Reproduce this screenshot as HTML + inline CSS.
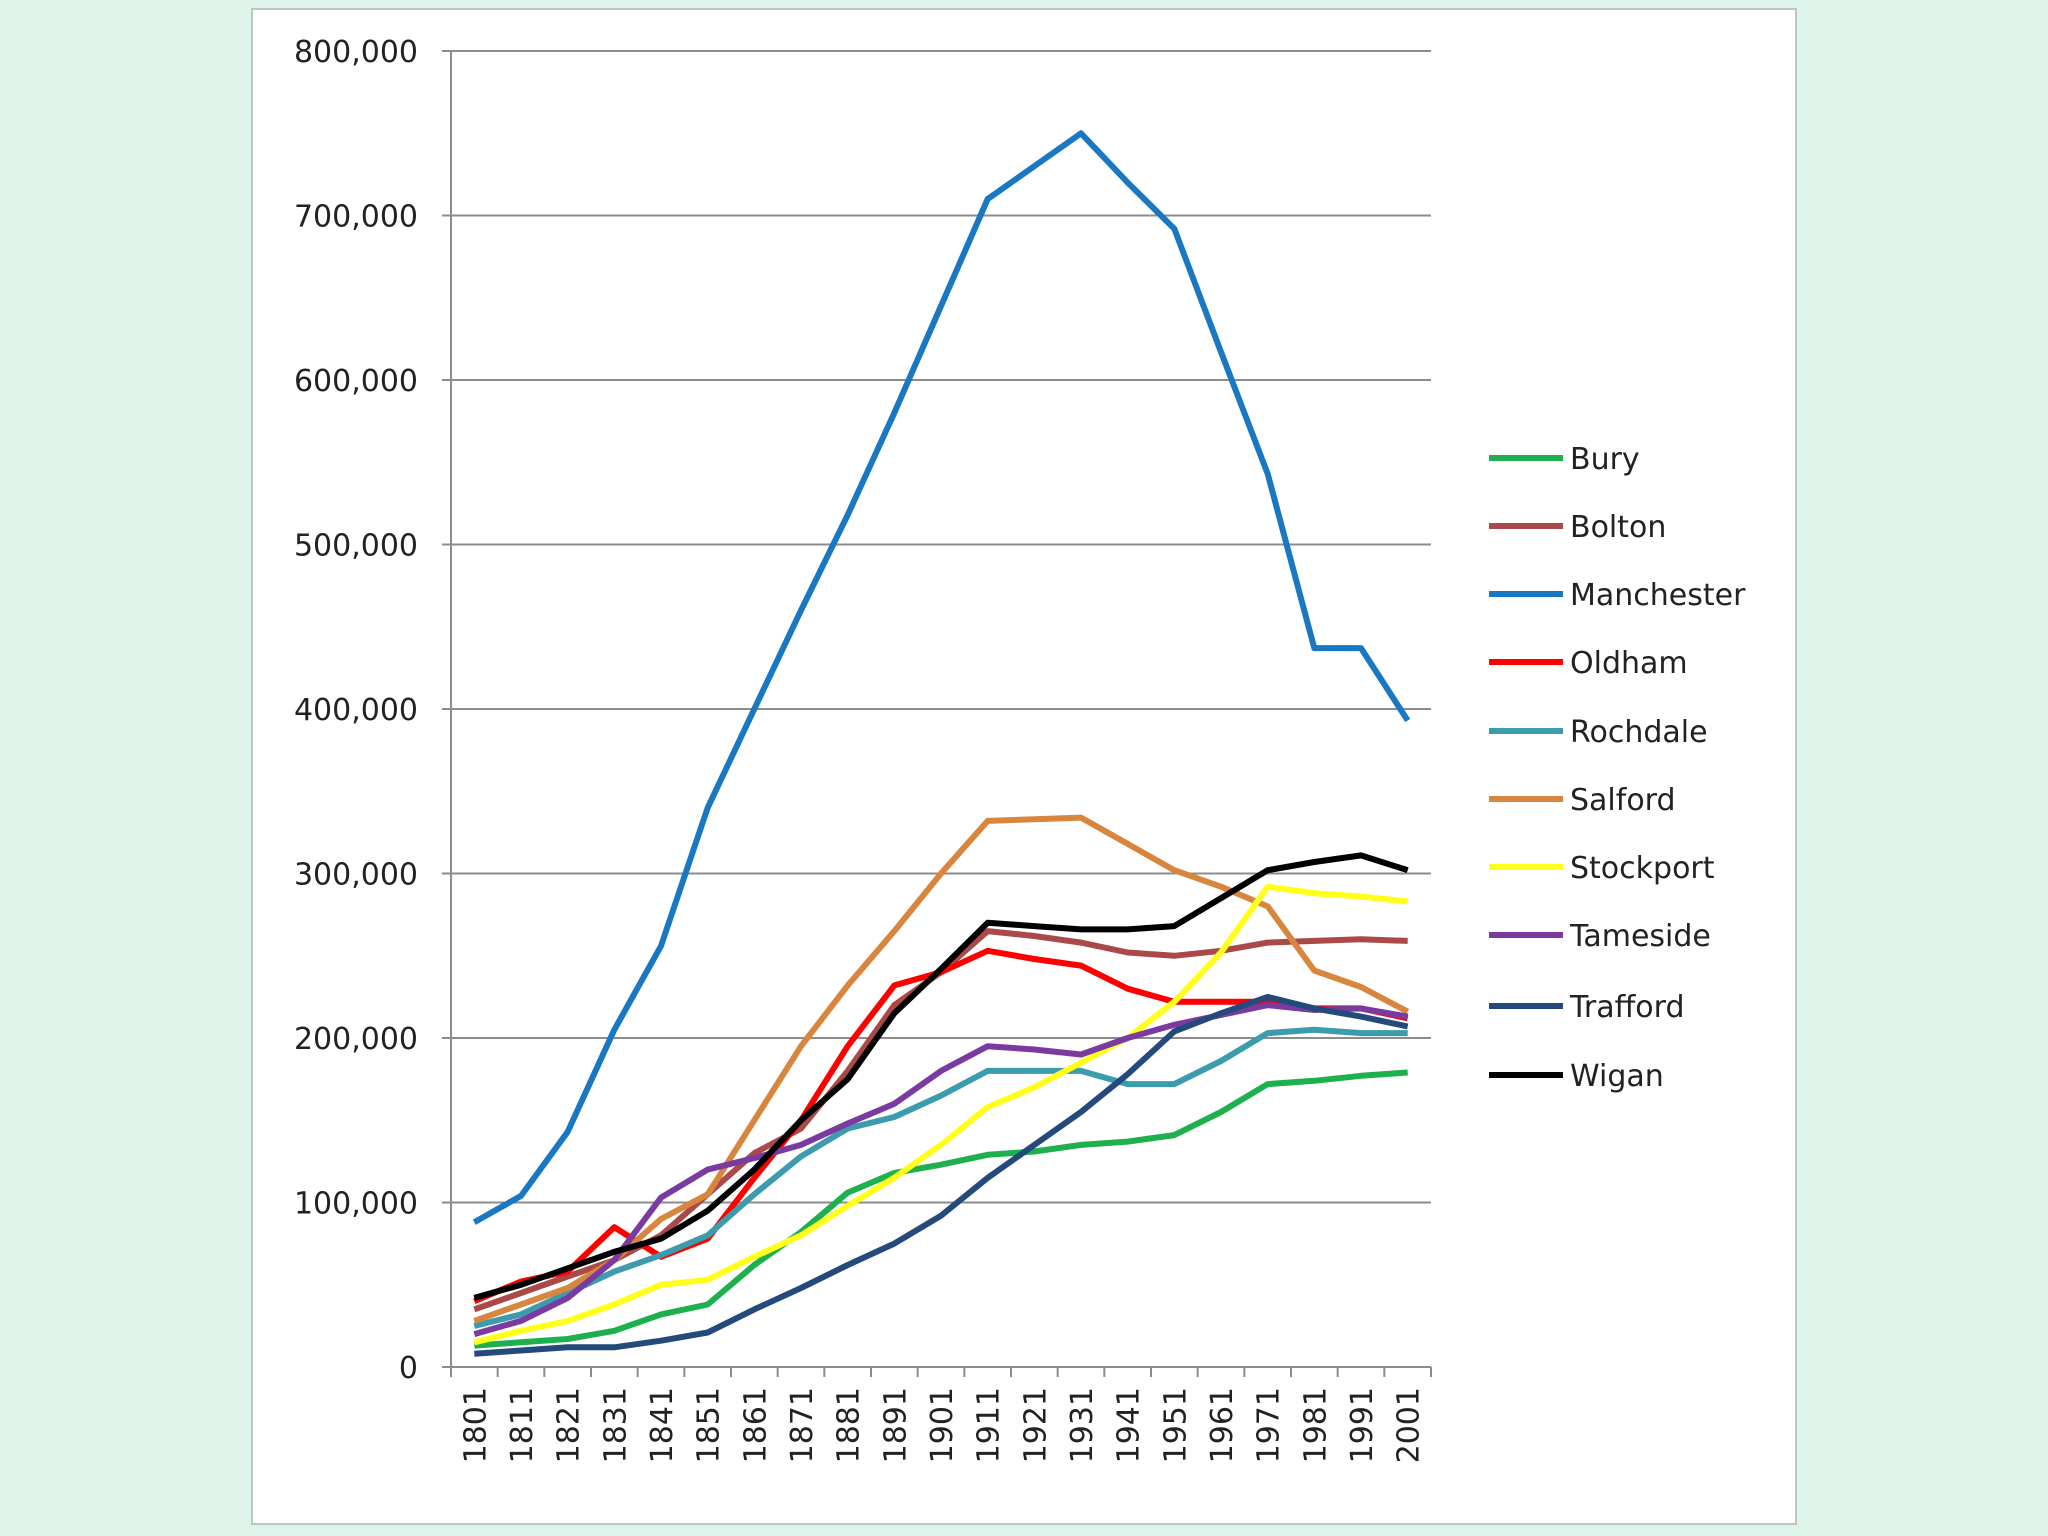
<!DOCTYPE html>
<html><head><meta charset="utf-8">
<style>
html,body{margin:0;padding:0;background:#def4ea;}
svg{display:block;font-family:"DejaVu Sans","Liberation Sans",sans-serif;}
</style></head>
<body>
<svg id="c" width="2048" height="1536" viewBox="0 0 2048 1536">
<rect x="0" y="0" width="2048" height="1536" fill="#def4ea"/>
<rect x="252" y="9" width="1544" height="1515" fill="#ffffff" stroke="#b8c8c0" stroke-width="2"/>
<g id="grid"></g><g id="axes"></g><g id="series"></g><g id="legend"></g>
</svg>
<script>
const categories = ["1801","1811","1821","1831","1841","1851","1861","1871","1881","1891","1901","1911","1921","1931","1941","1951","1961","1971","1981","1991","2001"];
const yTicks = [0,100000,200000,300000,400000,500000,600000,700000,800000];
const seriesNames = ["Bury","Bolton","Manchester","Oldham","Rochdale","Salford","Stockport","Tameside","Trafford","Wigan"];
const seriesColors = ["#1db04c","#a94a48","#1a78c2","#ff0000","#3c9bad","#d8863e","#ffff1a","#7a3aa0","#234a7a","#000000"];
const bury = [13,15,17,22,32,38,62,82,106,118,123,129,131,135,137,141,155,172,174,177,179];
const bolton = [35,45,55,65,80,105,130,145,180,220,240,265,262,258,252,250,253,258,259,260,259];
const manchester = [88,104,143,205,256,340,400,460,518,580,645,710,730,750,720,692,617,543,437,437,393];
const oldham = [40,52,58,85,67,78,115,150,195,232,240,253,248,244,230,222,222,222,218,218,212];
const rochdale = [25,32,45,58,68,80,105,128,145,152,165,180,180,180,172,172,186,203,205,203,203];
const salford = [28,38,48,65,90,105,150,195,232,265,300,332,333,334,318,302,292,280,241,231,216];
const stockport = [15,22,28,38,50,53,67,80,98,115,135,158,170,185,200,222,252,292,288,286,283];
const tameside = [20,28,42,65,103,120,127,135,148,160,180,195,193,190,200,208,214,220,217,218,213];
const trafford = [8,10,12,12,16,21,35,48,62,75,92,115,135,155,178,204,215,225,218,213,207];
const wigan = [42,50,60,70,78,95,120,150,175,215,242,270,268,266,266,268,285,302,307,311,302];
const seriesData = [bury,bolton,manchester,oldham,rochdale,salford,stockport,tameside,trafford,wigan];

const NS="http://www.w3.org/2000/svg";
const L=451,R=1431,T=51,B=1367,YMAX=800000;
const band=(R-L)/categories.length;
const xs=i=>L+band*(i+0.5);
const ys=v=>B-(v/YMAX)*(B-T);
function mk(tag,attrs,parent){const e=document.createElementNS(NS,tag);for(const k in attrs)e.setAttribute(k,attrs[k]);parent.appendChild(e);return e;}
const grid=document.getElementById('grid'),axes=document.getElementById('axes'),ser=document.getElementById('series'),leg=document.getElementById('legend');

yTicks.forEach((t,i)=>{
  const y=ys(t);
  if(t>0){const g=mk('line',{x1:L,x2:R,y1:y,y2:y,stroke:'#8c8c8c','stroke-width':2},grid);
  
  }
  const tk=mk('line',{x1:L-9,x2:L,y1:y,y2:y,stroke:'#8c8c8c','stroke-width':2},axes);
  
  
  const tx=mk('text',{x:L-33,y:y+11,'text-anchor':'end','font-size':30,fill:'#222'},axes);
  tx.textContent=t.toLocaleString('en-US');
  
  
});
const ya=mk('line',{x1:L,x2:L,y1:T,y2:B,stroke:'#8c8c8c','stroke-width':2},axes);


const xa=mk('line',{x1:L,x2:R,y1:B,y2:B,stroke:'#8c8c8c','stroke-width':2},axes);


for(let i=0;i<=categories.length;i++){
  const x=L+band*i;
  const tk=mk('line',{x1:x,x2:x,y1:B,y2:B+10,stroke:'#8c8c8c','stroke-width':2},axes);
  
  
}
categories.forEach((c,i)=>{
  const x=xs(i)+11,y=B+20;
  const tx=mk('text',{x:x,y:y,'text-anchor':'end','font-size':30,fill:'#222',transform:`rotate(-90 ${x} ${y})`},axes);
  tx.textContent=c;
  
  
});
seriesData.forEach((d,s)=>{
  const pts=d.map((v,i)=>xs(i).toFixed(1)+','+ys(v*1000).toFixed(1)).join(' ');
  const p=mk('polyline',{points:pts,fill:'none',stroke:seriesColors[s],'stroke-width':6,'stroke-linejoin':'round'},ser);
  
  
});
const legY=[458,526,594,662,731,799,867,935,1006,1075];
seriesNames.forEach((n,s)=>{
  const y=legY[s];
  const ln=mk('line',{x1:1489,x2:1563,y1:y,y2:y,stroke:seriesColors[s],'stroke-width':6},leg);
  
  
  const tx=mk('text',{x:1570,y:y+11,'font-size':30,fill:'#222'},leg);
  tx.textContent=n;
  
  
});
</script>
</body></html>
